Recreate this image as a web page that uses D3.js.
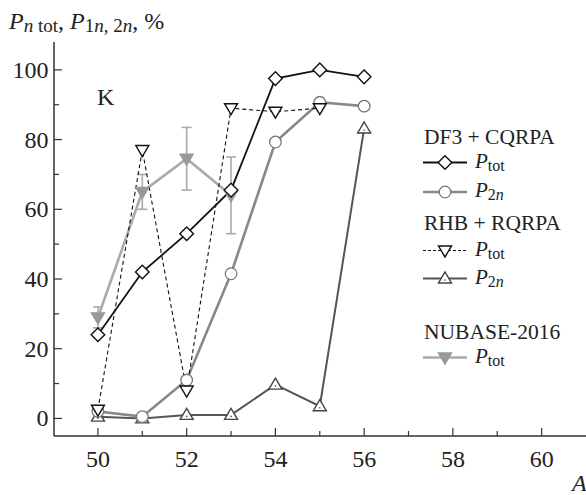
<!DOCTYPE html>
<html><head><meta charset="utf-8">
<script src="https://cdn.jsdelivr.net/npm/d3@7"></script>
<style>body{margin:0;background:#fff}svg{display:block}text{font-family:"Liberation Serif","DejaVu Serif",serif;fill:#222}</style>
</head><body><svg id="c" width="586" height="495"></svg>
<script>
const A = [50, 51, 52, 53, 54, 55, 56];
const df3Tot = [24, 42, 53, 65.5, 97.5, 100, 98];
const df3P2n = [2, 0.5, 11, 41.5, 79.3, 90.7, 89.6];
const rhbA = [50, 51, 52, 53, 54, 55];
const rhbTot = [2.5, 77, 8, 89, 88, 89];
const rhbP2n = [0.5, 0, 1, 1, 9.7, 3.5, 83.2];
const nubA = [50, 51, 52, 53];
const nubTot = [29, 65, 74.5, 64];
const nubLo = [26, 60, 65.5, 53];
const nubHi = [32, 70, 83.5, 75];
const xTicks = [50, 52, 54, 56, 58, 60];
const yTicks = [0, 20, 40, 60, 80, 100];

const svg = d3.select("#c");
const x = d3.scaleLinear().domain([49.01, 61]).range([54, 586]);
const y = d3.scaleLinear().domain([-5.05, 108]).range([436, 42]);

// axes
const axCol = "#333";
svg.append("line").attr("x1", 54).attr("x2", 54).attr("y1", y(108)).attr("y2", y(-5.05)).attr("stroke", axCol).attr("stroke-width", 1.5);
svg.append("line").attr("x1", 54).attr("x2", 586).attr("y1", 436).attr("y2", 436).attr("stroke", axCol).attr("stroke-width", 1.5);
d3.range(0, 101, 10).forEach(v => {
  svg.append("line").attr("x1", 54).attr("x2", 54 + (v % 20 === 0 ? 8 : 5)).attr("y1", y(v)).attr("y2", y(v)).attr("stroke", axCol).attr("stroke-width", 1.2);
});
d3.range(50, 61).forEach(v => {
  svg.append("line").attr("x1", x(v)).attr("x2", x(v)).attr("y1", 436).attr("y2", 436 - (v % 2 === 0 ? 8 : 5)).attr("stroke", axCol).attr("stroke-width", 1.2);
});
yTicks.forEach(v => svg.append("text").attr("x", 48.5).attr("y", y(v) + 8).attr("text-anchor", "end").attr("font-size", 24).text(v));
xTicks.forEach(v => svg.append("text").attr("x", x(v)).attr("y", 467).attr("text-anchor", "middle").attr("font-size", 24).text(v));

// title
const t = svg.append("text").attr("x", 9).attr("y", 29).attr("font-size", 24);
t.append("tspan").attr("font-style", "italic").text("P");
t.append("tspan").attr("font-style", "italic").attr("font-size", 19).attr("dy", 3).text("n");
t.append("tspan").attr("font-size", 19).text(" tot");
t.append("tspan").attr("dy", -3).text(", ");
t.append("tspan").attr("font-style", "italic").text("P");
t.append("tspan").attr("font-size", 19).attr("dy", 3).text("1");
t.append("tspan").attr("font-size", 19).attr("font-style", "italic").text("n");
t.append("tspan").attr("font-size", 19).text(", 2");
t.append("tspan").attr("font-size", 19).attr("font-style", "italic").text("n");
t.append("tspan").attr("dy", -3).text(", %");
svg.append("text").attr("x", 97).attr("y", 105).attr("font-size", 24).text("K");
svg.append("text").attr("x", 572).attr("y", 491).attr("font-size", 24).attr("font-style", "italic").text("A");

const line = d3.line().x(d => x(d[0])).y(d => y(d[1]));
const zip = (a, b) => a.map((v, i) => [v, b[i]]);

// NUBASE error bars
nubA.forEach((a, i) => {
  const g = svg.append("g").attr("stroke", "#aaa").attr("stroke-width", 1.6);
  g.append("line").attr("x1", x(a)).attr("x2", x(a)).attr("y1", y(nubLo[i])).attr("y2", y(nubHi[i]));
  [nubLo[i], nubHi[i]].forEach(v => g.append("line").attr("x1", x(a) - 5).attr("x2", x(a) + 5).attr("y1", y(v)).attr("y2", y(v)));
});

const series = [
  {d: zip(nubA, nubTot), stroke: "#aaa", w: 2.6, dash: null, sym: "tdown", fill: "#999", sc: "#999"},
  {d: zip(A, rhbP2n), stroke: "#555", w: 2, dash: null, sym: "tup", fill: "#fff", sc: "#444"},
  {d: zip(A, df3P2n), stroke: "#888", w: 2.6, dash: null, sym: "circle", fill: "#fff", sc: "#777"},
  {d: zip(rhbA, rhbTot), stroke: "#111", w: 1.1, dash: "4,3", sym: "tdown", fill: "#fff", sc: "#111"},
  {d: zip(A, df3Tot), stroke: "#111", w: 1.8, dash: null, sym: "diamond", fill: "#fff", sc: "#111"},
];

function symbol(g, type, cx, cy, fill, sc) {
  if (type === "circle") g.append("circle").attr("cx", cx).attr("cy", cy).attr("r", 5.8).attr("fill", fill).attr("stroke", sc).attr("stroke-width", 1.3);
  else if (type === "diamond") g.append("path").attr("d", `M${cx},${cy-6.8}L${cx+6.8},${cy}L${cx},${cy+6.8}L${cx-6.8},${cy}Z`).attr("fill", fill).attr("stroke", sc).attr("stroke-width", 1.4);
  else if (type === "tdown") g.append("path").attr("d", `M${cx-6.5},${cy-4.5}L${cx+6.5},${cy-4.5}L${cx},${cy+6.5}Z`).attr("fill", fill).attr("stroke", sc).attr("stroke-width", 1.4);
  else if (type === "tup") {
    g.append("path").attr("d", `M${cx-6.5},${cy+4.5}L${cx+6.5},${cy+4.5}L${cx},${cy-6.5}Z`).attr("fill", fill).attr("stroke", sc).attr("stroke-width", 1.4);
    g.append("circle").attr("cx", cx).attr("cy", cy + 1.5).attr("r", 0.8).attr("fill", sc);
  }
}

series.forEach(s => {
  svg.append("path").attr("d", line(s.d)).attr("fill", "none").attr("stroke", s.stroke).attr("stroke-width", s.w).attr("stroke-dasharray", s.dash);
});
series.forEach(s => {
  const g = svg.append("g");
  s.d.forEach(p => symbol(g, s.sym, x(p[0]), y(p[1]), s.fill, s.sc));
});

// legend
const lg = svg.append("g");
function head(txt, yy) { lg.append("text").attr("x", 424).attr("y", yy).attr("font-size", 21.5).text(txt); }
function row(s, yy, sub) {
  lg.append("line").attr("x1", 423).attr("x2", 467).attr("y1", yy).attr("y2", yy).attr("stroke", s.stroke).attr("stroke-width", s.w).attr("stroke-dasharray", s.dash ? "3,2" : null);
  symbol(lg, s.sym, 445, yy, s.fill, s.sc);
  const tx = lg.append("text").attr("x", 475).attr("y", yy + 5).attr("font-size", 21);
  tx.append("tspan").attr("font-style", "italic").text("P");
  if (sub === "tot") tx.append("tspan").attr("font-size", 16).attr("dy", 3).text("tot");
  else { tx.append("tspan").attr("font-size", 16).attr("dy", 3).text("2"); tx.append("tspan").attr("font-size", 16).attr("font-style", "italic").text("n"); }
}
head("DF3 + CQRPA", 144);
row(series[4], 162.5, "tot");
row(series[2], 192, "2n");
head("RHB + RQRPA", 230);
row(series[3], 250.5, "tot");
row(series[1], 278.5, "2n");
head("NUBASE-2016", 339);
row(series[0], 357.5, "tot");
</script></body></html>
